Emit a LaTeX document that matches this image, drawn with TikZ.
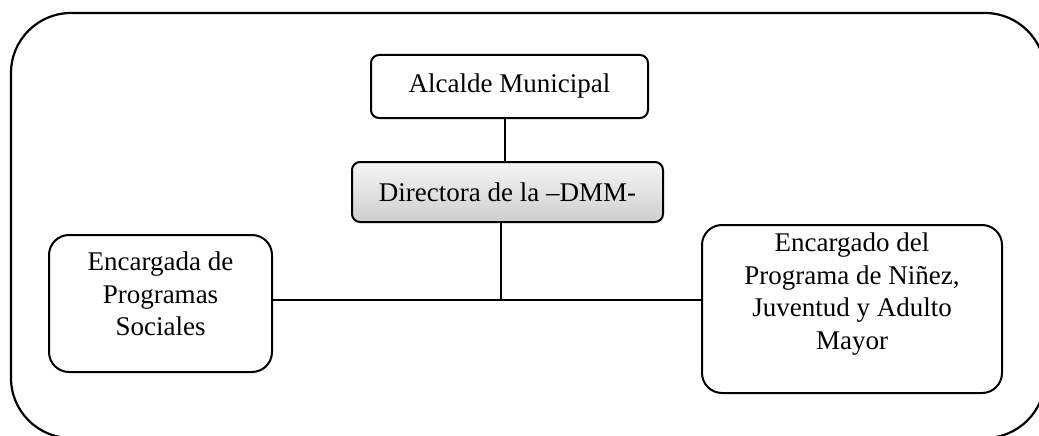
\documentclass[tikz,border=0pt]{standalone}
\usepackage{fontspec}
\setmainfont{Liberation Serif}
\begin{document}
\begin{tikzpicture}[x=1pt,y=-1pt,
  box/.style={draw=black,line width=2pt,inner sep=0pt,outer sep=0pt},
  lbl/.style={font=\fontsize{27}{32.5}\selectfont,align=center,inner sep=0pt},
  conn/.style={draw=black,line width=1.2pt}]
\useasboundingbox (0,0) rectangle (1039,436);
\begin{scope}
\clip (0,0) rectangle (1039,436);
\draw[line width=2.2pt,rounded corners=60pt] (11,13) rectangle (1045,438);
\end{scope}
% boxes
\node[box,rounded corners=8pt,minimum width=277pt,minimum height=63pt,lbl] (alc) at (509.5,86.5) {Alcalde Municipal};
\node[box,rounded corners=8pt,minimum width=311pt,minimum height=60pt,lbl,top color=gray!8,bottom color=gray!38] (dir) at (507.5,192) {\raisebox{-3pt}{Directora de la –DMM-}};
\node[box,rounded corners=20pt,minimum width=223pt,minimum height=137pt] (lbox) at (160.5,303.5) {};
\node[lbl] (ltext) at (160.5,294) {Encargada de\\Programas\\Sociales};
\node[box,rounded corners=20pt,minimum width=300pt,minimum height=168pt] (rbox) at (852,309) {};
\node[lbl] (rtext) at (852,294) {Encargado del\\Programa de Niñez,\\Juventud y Adulto\\Mayor};
% connectors
\coordinate (t) at (505,0);
\coordinate (j) at (501,300);
\draw[conn] (alc.south -| t) -- (dir.north -| t);
\draw[conn] (dir.south -| j) -- (j);
\draw[conn] (lbox.east |- j) -- (rbox.west |- j);
\end{tikzpicture}
\end{document}
